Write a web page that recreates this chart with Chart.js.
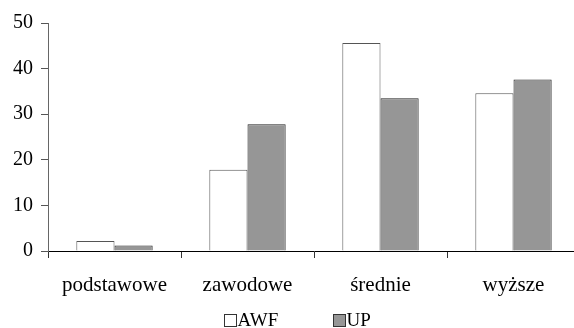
<!DOCTYPE html>
<html>
<head>
<meta charset="utf-8">
<script src="https://cdn.jsdelivr.net/npm/chart.js@4/dist/chart.umd.min.js"></script>
<style>
  html, body { margin: 0; padding: 0; background: #fff; overflow: hidden; }
  #wrap { position: relative; width: 580px; height: 328px; }
</style>
</head>
<body>
<div id="wrap"><canvas id="c"></canvas></div>
<script>
// Education level by group (%)
const categories = ['podstawowe', 'zawodowe', 'średnie', 'wyższe'];
const awfValues = [2.2, 17.8, 45.6, 34.6];
const upValues = [1.2, 27.8, 33.5, 37.6];
const seriesNames = ['AWF', 'UP'];
const yTicks = [0, 10, 20, 30, 40, 50];

const FONT = { family: '"Liberation Serif", "Times New Roman", serif', size: 20 };
const XFONT = { family: FONT.family, size: 21 };

// Legend drawn below the axis: small square swatch followed closely by the label
const swatchLegend = {
  id: 'swatchLegend',
  afterDraw(chart) {
    const ctx = chart.ctx;
    const items = chart.data.datasets;
    const xs = [224, 333];
    const y = 314;
    const size = 12;
    ctx.save();
    ctx.font = FONT.size - 1 + 'px ' + FONT.family;
    ctx.textBaseline = 'middle';
    items.forEach((ds, i) => {
      const x = xs[i];
      ctx.fillStyle = ds.backgroundColor;
      ctx.fillRect(x + 0.5, y + 0.5, size, size);
      ctx.strokeStyle = '#333';
      ctx.lineWidth = 1;
      ctx.strokeRect(x + 0.5, y + 0.5, size, size);
      ctx.fillStyle = '#000';
      ctx.fillText(ds.label, x + size + 1.5, y + size / 2 + 1);
    });
    ctx.restore();
  }
};

new Chart(document.getElementById('c'), {
  type: 'bar',
  data: {
    labels: categories,
    datasets: [
      { label: seriesNames[0], data: awfValues, backgroundColor: '#ffffff', borderColor: '#555', borderWidth: 1 },
      { label: seriesNames[1], data: upValues, backgroundColor: '#969696', borderColor: '#222', borderWidth: 1 }
    ]
  },
  options: {
    responsive: true,
    maintainAspectRatio: false,
    animation: false,
    events: [],
    layout: { padding: { top: 23, right: 0, left: 0, bottom: 0 } },
    datasets: { bar: { categoryPercentage: 0.574, barPercentage: 1.0 } },
    plugins: { legend: { display: false }, tooltip: { enabled: false } },
    scales: {
      x: {
        offset: true,
        grid: { offset: true, drawOnChartArea: false, drawTicks: true, tickLength: 7, color: '#333', lineWidth: 1 },
        border: { display: true, color: '#000', width: 1 },
        ticks: { color: '#000', font: XFONT, padding: 15, maxRotation: 0 },
        afterFit(scale) { scale.height = 77; }
      },
      y: {
        min: 0,
        max: 50,
        afterBuildTicks(scale) { scale.ticks = yTicks.map(v => ({ value: v })); },
        grid: { drawOnChartArea: false, drawTicks: true, tickLength: 7, color: '#555', lineWidth: 1 },
        border: { display: true, color: '#666', width: 1 },
        ticks: { color: '#000', font: FONT, padding: 8 },
        afterFit(scale) { scale.width = 48; }
      }
    }
  },
  plugins: [swatchLegend]
});
</script>
</body>
</html>
